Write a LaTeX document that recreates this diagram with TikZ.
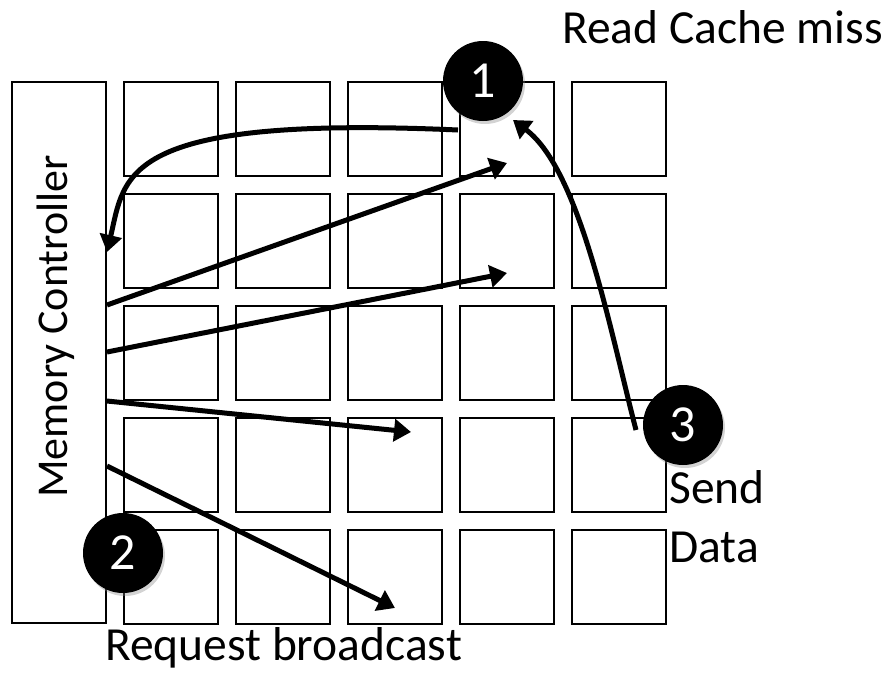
\documentclass[tikz,border=0pt]{standalone}
\usepackage{fontspec}
\setmainfont{Carlito}
\usetikzlibrary{arrows.meta,shadows}

\tikzset{
  tile/.style={draw, line width=2.2pt, minimum size=94pt, inner sep=0pt},
  badge/.style={circle, fill=black, text=white, minimum size=80pt, inner sep=0pt,
    font=\fontsize{52}{60}\selectfont,
    drop shadow={shadow xshift=2pt, shadow yshift=-3pt, opacity=0.35}},
  msg/.style={line width=5pt, -{Triangle[length=17pt,width=22pt]}},
  lbl/.style={anchor=base west, inner sep=0pt}
}

\begin{document}
\begin{tikzpicture}[x=1pt, y=-1pt, font=\fontsize{47.5}{56}\selectfont]
\useasboundingbox (0,0) rectangle (888,675);

% the 5x5 tiles
\foreach \r in {1,...,5}
  \foreach \c in {1,...,5}
    \node[tile] (t\r\c) at ({171+112*(\c-1)}, {129+112*(\r-1)}) {};

% memory controller
\node[draw, line width=2.2pt, minimum width=94pt, minimum height=541pt, inner sep=0pt]
  (mc) at (59,352.5) {};
\node[rotate=90, lbl, font=\fontsize{44}{52}\selectfont] (mclbl) at (67,498) {Memory Controller};

% end points
\coordinate (rq)  at (458,130);
\coordinate (mcin) at (107,252);
\coordinate (b1s) at (107,305);  \coordinate (b1e) at (507,163);
\coordinate (b2s) at (107,352);  \coordinate (b2e) at (507,273);
\coordinate (b3s) at (107,401);  \coordinate (b3e) at (411,432);
\coordinate (b4s) at (107,466);  \coordinate (b4e) at (395,608);
\coordinate (ds)  at (636,430);
\coordinate (de)  at (513,120);

% 1: read miss to controller
\draw[msg] (rq) .. controls (120,115) and (125,175) .. (mcin);
% 2: broadcast
\draw[msg] (b1s) -- (b1e);
\draw[msg] (b2s) -- (b2e);
\draw[msg] (b3s) -- (b3e);
\draw[msg] (b4s) -- (b4e);
% 3: data back
\draw[msg] (ds) .. controls (610,330) and (580,170) .. (de);

\node[badge] (n1) at (483,81)  {1};
\node[badge] (n2) at (123,553) {2};
\node[badge] (n3) at (683,425) {3};

\node[lbl] (rcm)  at (562,43)  {Read Cache miss};
\node[lbl] (rb)   at (105,660) {Request broadcast};
\node[lbl] (send) at (669,503) {Send};
\node[lbl] (data) at (669,562) {Data};
\end{tikzpicture}
\end{document}
